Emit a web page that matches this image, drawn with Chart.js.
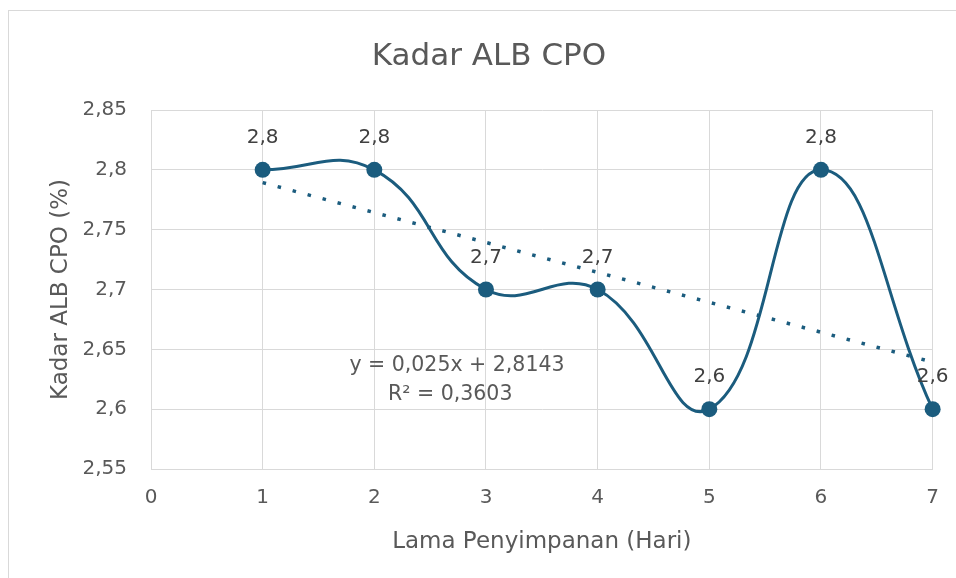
<!DOCTYPE html>
<html>
<head>
<meta charset="utf-8">
<title>Kadar ALB CPO</title>
<script src="https://cdn.jsdelivr.net/npm/chart.js@4"></script>
<style>
  html, body { margin: 0; padding: 0; background: #fff; overflow: hidden; }
  #wrap { position: relative; width: 956px; height: 578px; }
  #frame { position: absolute; left: 8px; top: 10px; width: 960px; height: 600px; border: 1px solid #d9d9d9; pointer-events: none; }
  canvas { position: absolute; left: 0; top: 0; }
</style>
</head>
<body>
<div id="wrap">
  <canvas id="chart" width="956" height="578"></canvas>
  <div id="frame"></div>
</div>
<script>
// data
const days = [1, 2, 3, 4, 5, 6, 7];
const albValues = [2.8, 2.8, 2.7, 2.7, 2.6, 2.8, 2.6];
// linear trendline endpoints (y = -0,025x + 2,8143)
const trendDays = [1, 7];
const trendValues = [2.7893, 2.6393];
const chartTitle = 'Kadar ALB CPO';
const equationLines = ['y = 0,025x + 2,8143', 'R\u00b2 = 0,3603'];

const lineColor = '#1b5c7e';
const textColor = '#595959';
const gridColor = '#d9d9d9';
const fontFamily = '"DejaVu Sans", Verdana, sans-serif';

const toComma = v => String(Math.round(v * 100) / 100).replace('.', ',');

// title, labels over the points, trendline equation
const labelPlugin = {
  id: 'labelPlugin',
  afterDatasetsDraw(chart) {
    const ctx = chart.ctx;
    const meta = chart.getDatasetMeta(0);
    ctx.save();
    ctx.textAlign = 'center';

    ctx.font = '31px ' + fontFamily;
    ctx.fillStyle = textColor;
    ctx.textBaseline = 'alphabetic';
    ctx.fillText(chartTitle, 489, 65);

    ctx.textBaseline = 'middle';
    ctx.font = '20px ' + fontFamily;
    ctx.fillStyle = '#404040';
    meta.data.forEach((pt, i) => {
      ctx.fillText(toComma(albValues[i]), pt.x, pt.y - 32);
    });

    const xs = chart.scales.x, ys = chart.scales.y;
    ctx.font = '20.5px ' + fontFamily;
    ctx.fillStyle = textColor;
    ctx.fillText(equationLines[0], xs.getPixelForValue(2.74), ys.getPixelForValue(2.636));
    ctx.fillText(equationLines[1], xs.getPixelForValue(2.68), ys.getPixelForValue(2.612));
    ctx.restore();
  }
};

new Chart(document.getElementById('chart'), {
  type: 'scatter',
  data: {
    datasets: [
      {
        label: 'Kadar ALB',
        data: days.map((d, i) => ({ x: d, y: albValues[i] })),
        showLine: true,
        borderColor: lineColor,
        backgroundColor: lineColor,
        borderWidth: 3,
        tension: 0.45,
        pointRadius: 8,
        pointBorderWidth: 0,
        pointBackgroundColor: lineColor,
        clip: false
      },
      {
        label: 'Trend',
        data: trendDays.map((d, i) => ({ x: d, y: trendValues[i] })),
        showLine: true,
        borderColor: lineColor,
        borderWidth: 3.5,
        borderDash: [3.5, 12],
        pointRadius: 0,
        tension: 0,
        clip: false
      }
    ]
  },
  options: {
    responsive: false,
    animation: false,
    devicePixelRatio: 1,
    layout: { padding: { left: 0, right: 23, top: 110, bottom: 0 } },
    plugins: {
      legend: { display: false },
      tooltip: { enabled: false },
      title: { display: false }
    },
    scales: {
      x: {
        type: 'linear',
        min: 0,
        max: 7,
        afterFit: s => { s.height = 109; },
        ticks: {
          stepSize: 1,
          padding: 17,
          color: textColor,
          font: { family: fontFamily, size: 20 }
        },
        grid: { color: gridColor, drawTicks: false },
        border: { color: gridColor },
        title: {
          display: true,
          text: 'Lama Penyimpanan (Hari)',
          color: textColor,
          font: { family: fontFamily, size: 23 },
          padding: { top: 0, bottom: 22 }
        }
      },
      y: {
        min: 2.55,
        max: 2.85,
        afterFit: s => { s.width = 151; },
        ticks: {
          stepSize: 0.05,
          padding: 24,
          color: textColor,
          font: { family: fontFamily, size: 20 },
          callback: v => toComma(v)
        },
        grid: { color: gridColor, drawTicks: false },
        border: { color: gridColor },
        title: {
          display: true,
          text: 'Kadar ALB CPO (%)',
          color: textColor,
          font: { family: fontFamily, size: 23 },
          padding: { top: 47, bottom: 0 }
        }
      }
    }
  },
  plugins: [labelPlugin]
});
</script>
</body>
</html>
